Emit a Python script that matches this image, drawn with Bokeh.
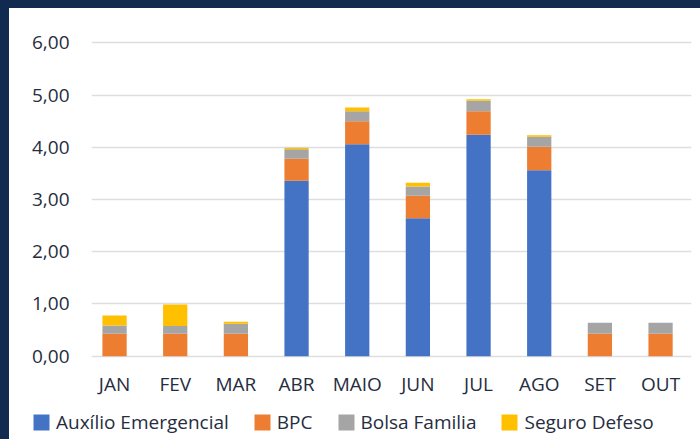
from bokeh.plotting import figure
from bokeh.models import ColumnDataSource, Range1d, FixedTicker, Legend, LegendItem, CustomJS
from bokeh.document import Document
from bokeh.embed import file_html
from bokeh.resources import INLINE

# ---- data ----
months = ["JAN", "FEV", "MAR", "ABR", "MAIO", "JUN", "JUL", "AGO", "SET", "OUT"]
auxilio = [0.00, 0.00, 0.00, 3.36, 4.06, 2.64, 4.24, 3.56, 0.00, 0.00]
bpc = [0.43, 0.43, 0.43, 0.42, 0.44, 0.43, 0.45, 0.45, 0.43, 0.43]
bolsa = [0.16, 0.15, 0.19, 0.18, 0.19, 0.18, 0.20, 0.19, 0.21, 0.21]
seguro = [0.19, 0.41, 0.04, 0.03, 0.07, 0.07, 0.03, 0.03, 0.00, 0.00]
series_names = ["Auxílio Emergencial", "BPC", "Bolsa Familia", "Seguro Defeso"]
series_keys = ["auxilio", "bpc", "bolsa", "seguro"]
colors = ["#4472C4", "#ED7D31", "#A5A5A5", "#FFC000"]
y_ticks = [0, 1, 2, 3, 4, 5, 6]

FONT = "Open Sans"
TEXT = "#262d40"
NAVY = "#112a50"

source = ColumnDataSource(dict(
    x=list(range(len(months))),
    auxilio=auxilio, bpc=bpc, bolsa=bolsa, seguro=seguro,
))

# ---- main chart ----
p = figure(
    width=691, height=392,
    x_range=Range1d(-0.38, 9.51), y_range=Range1d(-0.159, 6.159),
    output_backend="svg", toolbar_location=None,
    min_border_left=82, min_border_right=9, min_border_top=26, min_border_bottom=36,
    background_fill_color="white", border_fill_color="white",
)
p.margin = (8, 0, 0, 9)
p.styles = {"background-color": "white"}
p.outline_line_color = None

p.vbar_stack(series_keys, x="x", width=0.4, source=source,
             color=colors, line_color=None)

p.xaxis.ticker = FixedTicker(ticks=list(range(len(months))))
p.xaxis.major_label_overrides = {i: m for i, m in enumerate(months)}
p.yaxis.ticker = FixedTicker(ticks=y_ticks)
p.yaxis.major_label_overrides = {t: f"{t:.2f}".replace(".", ",") for t in y_ticks}
for ax in (p.xaxis, p.yaxis):
    ax.axis_line_color = None
    ax.major_tick_line_color = None
    ax.minor_tick_line_color = None
    ax.major_label_text_font = FONT
    ax.major_label_text_font_size = "19px"
    ax.major_label_text_color = TEXT
p.yaxis.major_label_standoff = 16
p.xaxis.major_label_standoff = 0

p.xgrid.grid_line_color = None
p.ygrid.grid_line_color = "#dedede"
p.ygrid.grid_line_width = 1.5
p.ygrid.ticker = FixedTicker(ticks=y_ticks)

# ---- legend strip: hidden copies of the stacked renderers give the swatches ----
lf = figure(
    width=691, height=39,
    x_range=Range1d(-0.38, 9.51), y_range=Range1d(-0.159, 6.159),
    x_axis_type=None, y_axis_type=None,
    output_backend="svg", toolbar_location=None,
    min_border_left=0, min_border_right=0, min_border_top=0, min_border_bottom=0,
    background_fill_color="white", border_fill_color="white",
)
lf.margin = (0, 0, 0, 9)
lf.styles = {"background-color": "white"}
lf.outline_line_color = None
swatches = lf.vbar_stack(series_keys, x="x", width=0.4, source=source,
                         color=colors, line_color=None)
for r in swatches:
    r.visible = False

legend = Legend(
    items=[LegendItem(label=n, renderers=[r]) for n, r in zip(series_names, swatches)],
    orientation="horizontal", location=(22, 4),
    glyph_width=20, glyph_height=20, label_standoff=5, spacing=23,
    padding=0, margin=0, border_line_color=None, background_fill_alpha=0,
    inactive_fill_alpha=0,
    label_text_font=FONT, label_text_font_size="19px", label_text_color=TEXT,
)
lf.add_layout(legend)

doc = Document()
doc.add_root(p)
doc.add_root(lf)
doc.js_on_event("document_ready",
                CustomJS(code=f"document.body.style.backgroundColor = '{NAVY}';"))

open("out.html", "w").write(file_html([p, lf], INLINE))
